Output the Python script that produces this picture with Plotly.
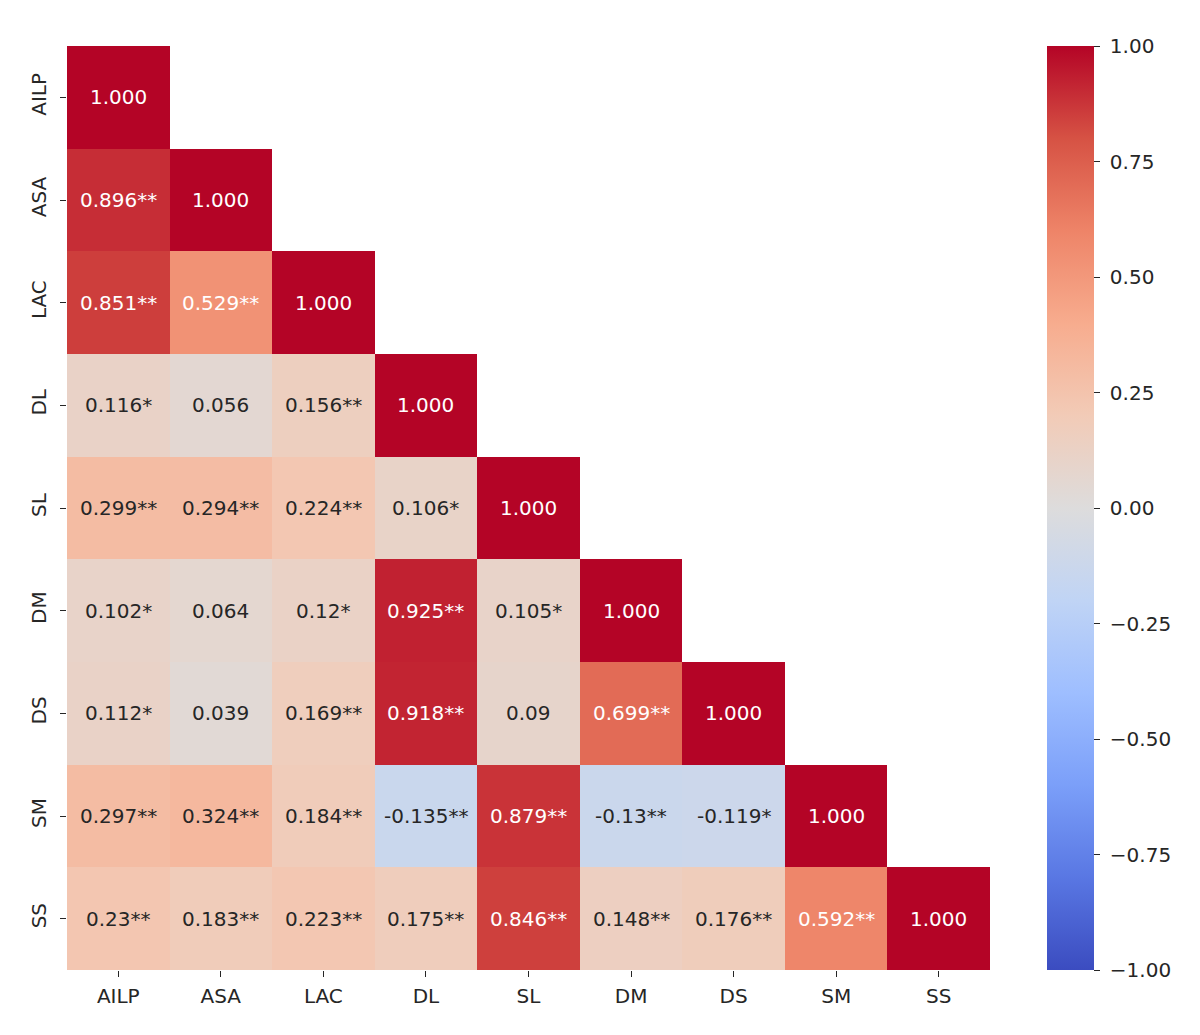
import plotly.graph_objects as go

labels = ["AILP", "ASA", "LAC", "DL", "SL", "DM", "DS", "SM", "SS"]

# lower-triangle correlation values, row by row
rows = [
    [1.000],
    [0.896, 1.000],
    [0.851, 0.529, 1.000],
    [0.116, 0.056, 0.156, 1.000],
    [0.299, 0.294, 0.224, 0.106, 1.000],
    [0.102, 0.064, 0.12, 0.925, 0.105, 1.000],
    [0.112, 0.039, 0.169, 0.918, 0.09, 0.699, 1.000],
    [0.297, 0.324, 0.184, -0.135, 0.879, -0.13, -0.119, 1.000],
    [0.23, 0.183, 0.223, 0.175, 0.846, 0.148, 0.176, 0.592, 1.000],
]
annot = [
    ["1.000"],
    ["0.896**", "1.000"],
    ["0.851**", "0.529**", "1.000"],
    ["0.116*", "0.056", "0.156**", "1.000"],
    ["0.299**", "0.294**", "0.224**", "0.106*", "1.000"],
    ["0.102*", "0.064", "0.12*", "0.925**", "0.105*", "1.000"],
    ["0.112*", "0.039", "0.169**", "0.918**", "0.09", "0.699**", "1.000"],
    ["0.297**", "0.324**", "0.184**", "-0.135**", "0.879**", "-0.13**", "-0.119*", "1.000"],
    ["0.23**", "0.183**", "0.223**", "0.175**", "0.846**", "0.148**", "0.176**", "0.592**", "1.000"],
]

cbar_vals = [-1.0, -0.75, -0.5, -0.25, 0.0, 0.25, 0.5, 0.75, 1.0]
cbar_text = ["\u22121.00", "\u22120.75", "\u22120.50", "\u22120.25", "0.00", "0.25", "0.50", "0.75", "1.00"]

# matplotlib coolwarm sampled at 11 points
coolwarm_hex = ["#3b4cc0", "#5977e3", "#7b9ff9", "#9ebeff", "#c0d4f5", "#dddcdc",
                "#f2cbb7", "#f7ac8e", "#ee8468", "#d65244", "#b40426"]
colorscale = [[i / 10, c] for i, c in enumerate(coolwarm_hex)]

n = len(labels)
z = [[rows[i][j] if j <= i else None for j in range(n)] for i in range(n)]

FONT = "DejaVu Sans"
DARK = "#262626"
FS = 20

fig = go.Figure()
fig.add_trace(go.Heatmap(
    z=z, x=labels, y=labels,
    zmin=-1, zmax=1, colorscale=colorscale,
    xgap=0, ygap=0, hoverongaps=False,
    colorbar=dict(
        thickness=47, len=1, lenmode="fraction", y=0.5, yanchor="middle",
        x=1.0618, xanchor="left", xpad=0, ypad=0, outlinewidth=0,
        tickvals=cbar_vals, ticktext=["\u00a0" + t for t in cbar_text],
        ticks="outside", ticklen=6, tickwidth=1.3, tickcolor=DARK,
        tickfont=dict(family=FONT, size=FS, color=DARK),
    ),
))

for i in range(n):
    for j in range(i + 1):
        v = rows[i][j]
        fig.add_annotation(
            x=labels[j], y=labels[i], text=annot[i][j], showarrow=False,
            font=dict(family=FONT, size=FS, color="white" if v >= 0.5 else DARK),
        )

fig.update_xaxes(
    showgrid=False, zeroline=False, showline=False,
    ticks="outside", ticklen=6, tickwidth=1.3, tickcolor=DARK,
    ticklabelstandoff=2,
    tickfont=dict(family=FONT, size=FS, color=DARK),
)
fig.update_yaxes(
    autorange="reversed", showgrid=False, zeroline=False, showline=False,
    ticks="outside", ticklen=6, tickwidth=1.3, tickcolor=DARK, tickangle=-90,
    ticklabelstandoff=6,
    tickfont=dict(family=FONT, size=FS, color=DARK),
)

fig.update_layout(
    width=1200, height=1035,
    margin=dict(l=59, r=218, t=38, b=73),
    plot_bgcolor="white", paper_bgcolor="white",
    font=dict(family=FONT, color=DARK),
)

fig.write_html("out.html")
